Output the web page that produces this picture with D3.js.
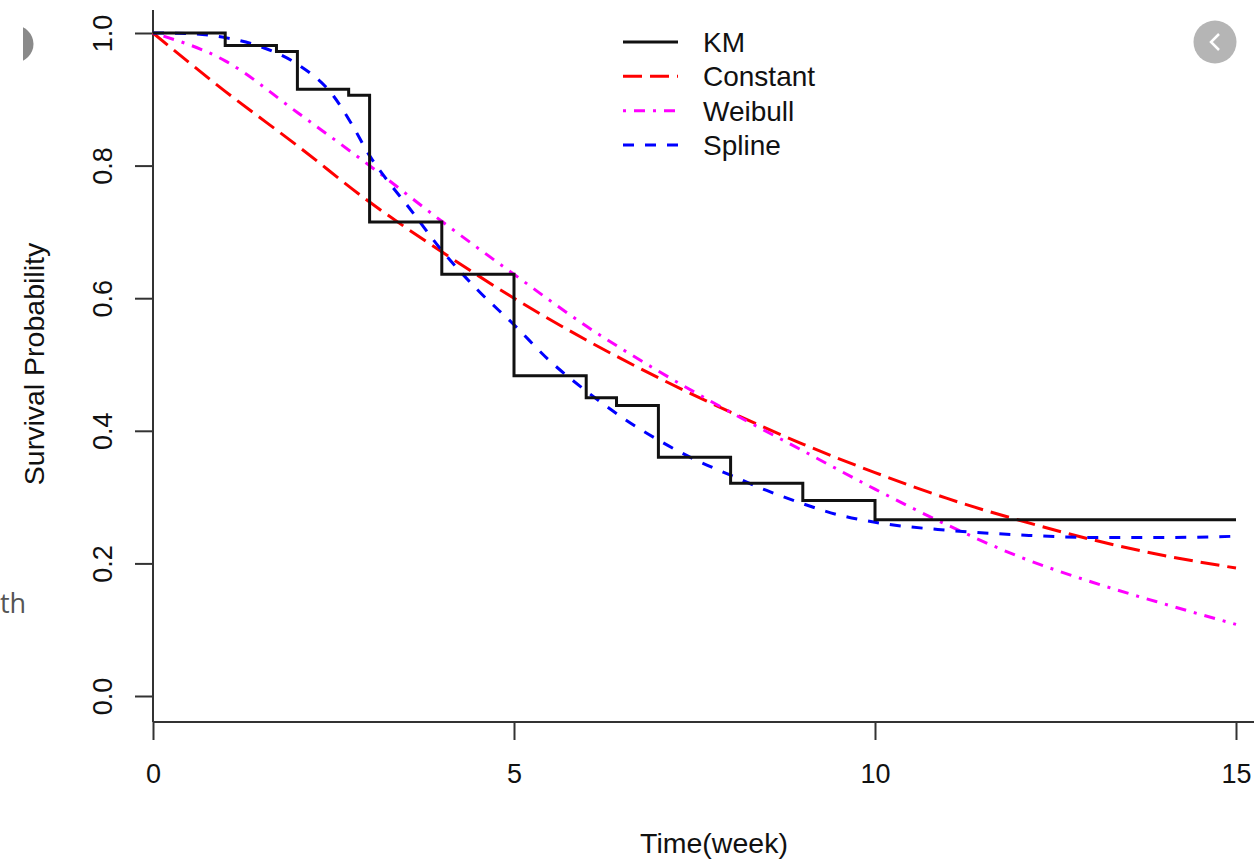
<!DOCTYPE html>
<html>
<head>
<meta charset="utf-8">
<script src="https://cdn.jsdelivr.net/npm/d3@7"></script>
<style>
  html, body { margin: 0; padding: 0; background: #fff; }
  svg { display: block; font-family: "Liberation Sans", Arial, Helvetica, sans-serif; }
</style>
</head>
<body>
<svg id="chart" width="1254" height="861"></svg>
<script>
// ---- data ----
const kmTime = [0, 1, 1.71, 2, 2.71, 3, 4, 5, 6, 6.42, 7, 8, 9, 10, 15];
const kmSurv = [1, 0.981, 0.972, 0.915, 0.906, 0.715, 0.636, 0.483, 0.450, 0.438, 0.360, 0.321, 0.295, 0.266, 0.266];

const constTime = [0, 1, 2, 3, 4, 5, 6, 7, 8, 9, 10, 11, 12, 13, 14, 15];
const constSurv = [1.0, 0.912, 0.83, 0.745, 0.67, 0.60, 0.537, 0.48, 0.428, 0.38, 0.337, 0.298, 0.265, 0.236, 0.212, 0.193];

const weibTime = [0, 1, 2, 3, 4, 5, 6, 7, 8, 9, 10, 11, 12, 13, 14, 15];
const weibSurv = [1.0, 0.958, 0.88, 0.80, 0.716, 0.636, 0.558, 0.49, 0.428, 0.37, 0.312, 0.258, 0.21, 0.172, 0.139, 0.108];

const splineTime = [0, 0.5, 1, 1.5, 2, 2.5, 2.75, 3, 3.25, 3.5, 4, 4.5, 5, 5.5, 6, 6.5, 7, 7.5, 8, 8.5, 9, 9.5, 10, 11, 12, 13, 14, 15];
const splineSurv = [1.0, 0.999, 0.993, 0.979, 0.953, 0.905, 0.863, 0.815, 0.777, 0.743, 0.672, 0.612, 0.56, 0.505, 0.46, 0.42, 0.386, 0.357, 0.333, 0.31, 0.29, 0.273, 0.262, 0.25, 0.243, 0.239, 0.239, 0.241];

const xTicks = [0, 5, 10, 15];
const yTicks = [0, 0.2, 0.4, 0.6, 0.8, 1.0];
const yTickLabels = ["0.0", "0.2", "0.4", "0.6", "0.8", "1.0"];

const legendLabels = ["KM", "Constant", "Weibull", "Spline"];
const xLabel = "Time(week)";
const yLabel = "Survival Probability";

// ---- layout ----
const svg = d3.select("#chart");
const x = d3.scaleLinear().domain([0, 15]).range([153, 1236]);
const y = d3.scaleLinear().domain([0, 1]).range([696, 33]);
const axisColor = "#333";
const tickFont = 27;
const titleFont = 28.5;

// page decorations (screenshot artifacts)
svg.append("clipPath").attr("id", "leftclip")
  .append("rect").attr("x", 23).attr("y", 0).attr("width", 40).attr("height", 100);
svg.append("circle").attr("cx", 15).attr("cy", 44).attr("r", 18.5)
  .attr("fill", "#8a8a8a").attr("clip-path", "url(#leftclip)");
svg.append("circle").attr("cx", 1215).attr("cy", 42).attr("r", 21.5).attr("fill", "#b5b5b5");
svg.append("path").attr("d", "M1219,34 L1211,42 L1219,50")
  .attr("fill", "none").attr("stroke", "#fff").attr("stroke-width", 2.5);
svg.append("text").attr("x", 0).attr("y", 613).attr("text-anchor", "start")
  .attr("font-family", "'Open Sans', 'Noto Sans', sans-serif")
  .attr("font-size", 27).attr("fill", "#555").text("th");

// ---- axes ----
const xAxis = d3.axisBottom(x).tickValues(xTicks).tickSize(18).tickSizeOuter(0).tickPadding(24);
const gx = svg.append("g").attr("transform", "translate(0,722)").call(xAxis);
gx.select(".domain").remove();
gx.selectAll(".tick line").attr("stroke", axisColor).attr("stroke-width", 2);
gx.selectAll(".tick text").attr("font-size", tickFont).attr("fill", "#111")
  .attr("font-family", "'Liberation Sans', Arial, sans-serif");
svg.append("line").attr("x1", 153).attr("x2", 1254).attr("y1", 722).attr("y2", 722)
  .attr("stroke", axisColor).attr("stroke-width", 2);

const yAxis = d3.axisLeft(y).tickValues(yTicks).tickSize(18).tickSizeOuter(0)
  .tickFormat((d, i) => yTickLabels[i]);
const gy = svg.append("g").attr("transform", "translate(153,0)").call(yAxis);
gy.select(".domain").remove();
gy.selectAll(".tick line").attr("stroke", axisColor).attr("stroke-width", 2);
gy.selectAll(".tick text")
  .attr("font-size", tickFont).attr("fill", "#111")
  .attr("font-family", "'Liberation Sans', Arial, sans-serif")
  .attr("x", null).attr("dy", null)
  .attr("text-anchor", "middle")
  .attr("transform", "translate(-41,0) rotate(-90)");
svg.append("line").attr("x1", 153).attr("x2", 153).attr("y1", 10).attr("y2", 722)
  .attr("stroke", axisColor).attr("stroke-width", 2);

// axis titles
svg.append("text").attr("x", 714).attr("y", 853).attr("text-anchor", "middle")
  .attr("font-size", titleFont).attr("fill", "#111").text(xLabel);
svg.append("text").attr("transform", "translate(44,364) rotate(-90)").attr("text-anchor", "middle")
  .attr("font-size", titleFont).attr("fill", "#111").text(yLabel);

// ---- series ----
const series = [
  { name: legendLabels[1], t: constTime, s: constSurv, color: "#ff0000", dash: "19,8", curve: d3.curveMonotoneX },
  { name: legendLabels[2], t: weibTime, s: weibSurv, color: "#ff00ff", dash: "3,8,11,8", curve: d3.curveMonotoneX },
  { name: legendLabels[3], t: splineTime, s: splineSurv, color: "#0000ff", dash: "11,11", curve: d3.curveMonotoneX },
  { name: legendLabels[0], t: kmTime, s: kmSurv, color: "#111", dash: null, curve: d3.curveStepAfter }
];

series.forEach(sr => {
  const pts = sr.t.map((t, i) => [t, sr.s[i]]);
  const line = d3.line().x(d => x(d[0])).y(d => y(d[1])).curve(sr.curve);
  svg.append("path").datum(pts).attr("d", line)
    .attr("fill", "none").attr("stroke", sr.color).attr("stroke-width", 3)
    .attr("stroke-dasharray", sr.dash);
});

// ---- legend ----
const legendItems = [
  { name: legendLabels[0], color: "#111", dash: null },
  { name: legendLabels[1], color: "#ff0000", dash: "19,8" },
  { name: legendLabels[2], color: "#ff00ff", dash: "3,8,11,8" },
  { name: legendLabels[3], color: "#0000ff", dash: "11,11" }
];
const legendY = d3.scalePoint().domain(legendItems.map(d => d.name)).range([42, 145]);
const lg = svg.append("g");
legendItems.forEach(it => {
  const yy = legendY(it.name);
  lg.append("line").attr("x1", 623).attr("x2", 678).attr("y1", yy).attr("y2", yy)
    .attr("stroke", it.color).attr("stroke-width", 3).attr("stroke-dasharray", it.dash);
  lg.append("text").attr("x", 703).attr("y", yy + 10).attr("font-size", 28)
    .attr("fill", "#111").text(it.name);
});
</script>
</body>
</html>
